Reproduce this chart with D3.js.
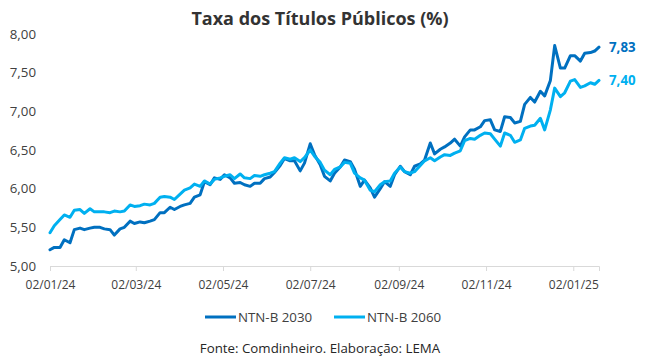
<!DOCTYPE html>
<html>
<head>
<meta charset="utf-8">
<script src="https://cdn.jsdelivr.net/npm/d3@7"></script>
<style>
    body { margin: 0; background: #fff; }
    text { font-family: "Open Sans", sans-serif; }
</style>
</head>
<body>
<div id="chart"></div>
<script>
// Datas (terças e sextas)
var dates = [
    "2024-01-02","2024-01-05","2024-01-09","2024-01-12","2024-01-16","2024-01-19","2024-01-23","2024-01-26","2024-01-30","2024-02-02",
    "2024-02-06","2024-02-09","2024-02-13","2024-02-16","2024-02-20","2024-02-23","2024-02-27","2024-03-01","2024-03-05","2024-03-08",
    "2024-03-12","2024-03-15","2024-03-19","2024-03-22","2024-03-26","2024-03-29","2024-04-02","2024-04-05","2024-04-09","2024-04-12",
    "2024-04-16","2024-04-19","2024-04-23","2024-04-26","2024-04-30","2024-05-03","2024-05-07","2024-05-10","2024-05-14","2024-05-17",
    "2024-05-21","2024-05-24","2024-05-28","2024-05-31","2024-06-04","2024-06-07","2024-06-11","2024-06-14","2024-06-18","2024-06-21",
    "2024-06-25","2024-06-28","2024-07-02","2024-07-05","2024-07-09","2024-07-12","2024-07-16","2024-07-19","2024-07-23","2024-07-26",
    "2024-07-30","2024-08-02","2024-08-06","2024-08-09","2024-08-13","2024-08-16","2024-08-20","2024-08-23","2024-08-27","2024-08-30",
    "2024-09-03","2024-09-06","2024-09-10","2024-09-13","2024-09-17","2024-09-20","2024-09-24","2024-09-27","2024-10-01","2024-10-04",
    "2024-10-08","2024-10-11","2024-10-15","2024-10-18","2024-10-22","2024-10-25","2024-10-29","2024-11-01","2024-11-05","2024-11-08",
    "2024-11-12","2024-11-15","2024-11-19","2024-11-22","2024-11-26","2024-11-29","2024-12-03","2024-12-06","2024-12-10","2024-12-13",
    "2024-12-17","2024-12-20","2024-12-24","2024-12-27","2024-12-31","2025-01-03","2025-01-07","2025-01-10","2025-01-14","2025-01-17",
    "2025-01-20"
];

var ntnb2030 = [
    5.21,5.24,5.24,5.34,5.30,5.47,5.49,5.47,5.49,5.50,
    5.50,5.48,5.47,5.40,5.48,5.50,5.58,5.55,5.57,5.56,
    5.58,5.60,5.69,5.69,5.76,5.73,5.77,5.79,5.81,5.89,
    5.92,6.09,6.05,6.14,6.12,6.18,6.14,6.07,6.08,6.05,
    6.03,6.07,6.07,6.13,6.15,6.21,6.30,6.39,6.36,6.36,
    6.23,6.33,6.58,6.44,6.31,6.16,6.10,6.20,6.28,6.37,
    6.35,6.25,6.03,6.11,6.01,5.89,6.00,6.09,6.03,6.18,
    6.29,6.22,6.18,6.29,6.32,6.37,6.59,6.45,6.51,6.54,
    6.59,6.64,6.55,6.67,6.76,6.76,6.80,6.88,6.89,6.76,
    6.74,6.93,6.92,6.85,6.87,7.09,7.18,7.12,7.26,7.20,
    7.40,7.85,7.56,7.56,7.72,7.72,7.65,7.75,7.76,7.78,
    7.83
];

var ntnb2060 = [
    5.43,5.52,5.60,5.66,5.63,5.72,5.73,5.68,5.74,5.70,
    5.70,5.70,5.69,5.71,5.70,5.71,5.79,5.77,5.78,5.80,
    5.79,5.81,5.89,5.90,5.89,5.86,5.93,5.98,6.01,6.06,
    6.03,6.10,6.06,6.12,6.14,6.16,6.18,6.13,6.19,6.14,
    6.13,6.17,6.16,6.18,6.20,6.22,6.33,6.40,6.38,6.40,
    6.35,6.40,6.50,6.42,6.34,6.24,6.18,6.25,6.28,6.34,
    6.33,6.20,6.14,6.11,5.98,5.96,6.05,6.09,6.10,6.20,
    6.28,6.22,6.20,6.22,6.30,6.36,6.40,6.36,6.41,6.44,
    6.43,6.46,6.49,6.62,6.65,6.64,6.69,6.72,6.71,6.64,
    6.55,6.72,6.69,6.60,6.63,6.78,6.81,6.82,6.91,6.76,
    7.02,7.30,7.19,7.24,7.39,7.41,7.31,7.33,7.37,7.35,
    7.40
];

var tickDates = ["2024-01-02","2024-03-02","2024-05-02","2024-07-02","2024-09-02","2024-11-02","2025-01-02"];
var yTicks = [5.0, 5.5, 6.0, 6.5, 7.0, 7.5, 8.0];
var seriesNames = ["NTN-B 2030", "NTN-B 2060"];
var colors = ["#0070C0", "#00B0F0"];

var svgWidth = 652;
var svgHeight = 362;
var plotLeft = 50, plotRight = 599, plotTop = 34, plotBottom = 266;

var parseDate = d3.timeParse("%Y-%m-%d");
var formatDate = d3.timeFormat("%d/%m/%y");
var br = d3.formatLocale({ decimal: ",", thousands: ".", grouping: [3], currency: ["R$", ""] });
var fmt = br.format(".2f");

var parsed = dates.map(parseDate);
var series = [ntnb2030, ntnb2060];

var svg = d3.select("#chart")
    .append("svg")
    .attr("width", svgWidth)
    .attr("height", svgHeight);

var x = d3.scaleTime()
    .domain([parsed[0], parsed[parsed.length - 1]])
    .range([plotLeft, plotRight]);

var y = d3.scaleLinear()
    .domain([5, 8])
    .range([plotBottom, plotTop]);

// Titulo
svg.append("text")
    .attr("x", 320)
    .attr("y", 25)
    .attr("text-anchor", "middle")
    .attr("font-size", "18px")
    .attr("font-weight", "bold")
    .attr("fill", "#333")
    .text("Taxa dos Títulos Públicos (%)");

// Eixo X
var xAxis = svg.append("g")
    .attr("transform", "translate(0," + plotBottom + ")")
    .call(d3.axisBottom(x)
        .tickValues(tickDates.map(parseDate))
        .tickFormat(formatDate)
        .tickSizeOuter(0)
        .tickSize(5)
        .tickPadding(9));

xAxis.select(".domain").attr("stroke", "#d9d9d9");
xAxis.selectAll(".tick line").attr("stroke", "#d9d9d9");
xAxis.selectAll(".tick text")
    .attr("fill", "#404040")
    .attr("font-size", "12px")
    .attr("font-family", "Open Sans, sans-serif");

// Eixo Y (sem linha)
var yAxis = svg.append("g")
    .attr("transform", "translate(" + plotLeft + ",0)")
    .call(d3.axisLeft(y)
        .tickValues(yTicks)
        .tickFormat(fmt)
        .tickSize(0)
        .tickPadding(14));

yAxis.select(".domain").remove();
yAxis.selectAll(".tick text")
    .attr("fill", "#404040")
    .attr("font-size", "13.3px")
    .attr("font-family", "Open Sans, sans-serif");

// Linhas
var line = d3.line()
    .x(function (d, i) { return x(parsed[i]); })
    .y(function (d) { return y(d); });

svg.selectAll(".serie")
    .data(series)
    .enter()
    .append("path")
    .attr("class", "serie")
    .attr("fill", "none")
    .attr("stroke", function (d, i) { return colors[i]; })
    .attr("stroke-width", 3)
    .attr("stroke-linejoin", "round")
    .attr("stroke-linecap", "round")
    .attr("d", line);

// Rotulos do ultimo valor
svg.selectAll(".last")
    .data(series)
    .enter()
    .append("text")
    .attr("class", "last")
    .attr("x", function (d) { return x(parsed[d.length - 1]) + 10; })
    .attr("y", function (d) { return y(d[d.length - 1]) + 5; })
    .attr("font-size", "13.3px")
    .attr("font-weight", "bold")
    .attr("fill", function (d, i) { return colors[i]; })
    .text(function (d) { return fmt(d[d.length - 1]); });

// Legenda
var legendX = [205, 334];
var legend = svg.selectAll(".legend")
    .data(seriesNames)
    .enter()
    .append("g")
    .attr("class", "legend")
    .attr("transform", function (d, i) { return "translate(" + legendX[i] + ",317)"; });

legend.append("line")
    .attr("x1", 0)
    .attr("x2", 31)
    .attr("stroke", function (d, i) { return colors[i]; })
    .attr("stroke-width", 3);

legend.append("text")
    .attr("x", 33)
    .attr("y", 4.5)
    .attr("font-size", "13.3px")
    .attr("fill", "#404040")
    .text(function (d) { return d; });

// Fonte
svg.append("text")
    .attr("x", 320)
    .attr("y", 353)
    .attr("text-anchor", "middle")
    .attr("font-size", "13.3px")
    .attr("fill", "#262626")
    .text("Fonte: Comdinheiro. Elaboração: LEMA");
</script>
</body>
</html>
